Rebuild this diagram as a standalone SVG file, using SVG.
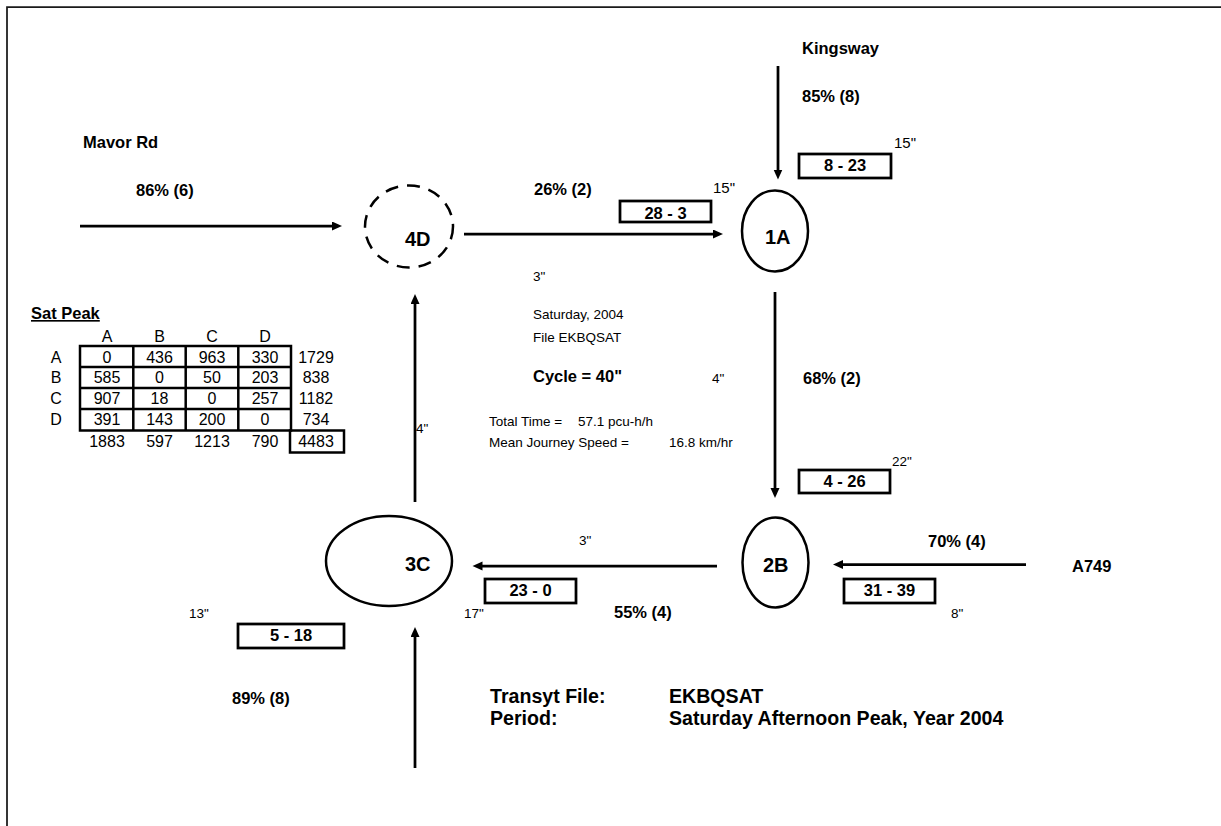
<svg xmlns="http://www.w3.org/2000/svg" width="1221" height="826" viewBox="0 0 1221 826">
<style>
text{font-family:"Liberation Sans",Arial,sans-serif;fill:#000}
.lb{font-weight:bold;font-size:16.5px}
.nd{font-weight:bold;font-size:20px}
.bx{font-weight:bold;font-size:16.5px;text-anchor:middle}
.s{font-size:13.5px}
.s15{font-size:15px}
.tb{font-size:16px;text-anchor:middle}
.big{font-weight:bold;font-size:19.6px}
.node{fill:none;stroke:#000;stroke-width:2.5}
.box{fill:#fff;stroke:#000;stroke-width:2.75}
.con{stroke:#000;stroke-width:2.75;fill:none;marker-end:url(#ah)}
.grid{stroke:#000;stroke-width:2.5;fill:none}
</style>
<defs>
<marker id="ah" markerUnits="userSpaceOnUse" markerWidth="11" markerHeight="10" refX="2" refY="4.5" orient="auto">
<path d="M0,0 L10,4.5 L0,9 z" fill="#000"/>
</marker>
</defs>
<rect width="1221" height="826" fill="#fff"/>
<path d="M7,826 V7 H1221" fill="none" stroke="#1a1a1a" stroke-width="1.75"/>

<g id="connectors">
<line class="con" x1="80" y1="226" x2="334" y2="226"/>
<line class="con" x1="464" y1="234" x2="715" y2="234"/>
<line class="con" x1="778" y1="66" x2="778" y2="171.5"/>
<line class="con" x1="775" y1="292" x2="775" y2="490"/>
<line class="con" x1="1026" y1="564.5" x2="841" y2="564.5"/>
<line class="con" x1="717" y1="566" x2="480.5" y2="566"/>
<line class="con" x1="415" y1="502" x2="415" y2="302"/>
<line class="con" x1="415" y1="768" x2="415" y2="635"/>
</g>

<g id="node-4D">
<ellipse class="node" cx="409" cy="226.5" rx="44" ry="41" stroke-dasharray="13 9"/>
<text class="nd" x="405" y="246">4D</text>
</g>
<g id="node-1A">
<ellipse class="node" cx="775" cy="231" rx="33" ry="40.5"/>
<text class="nd" x="765" y="244">1A</text>
</g>
<g id="node-2B">
<ellipse class="node" cx="775.5" cy="562.5" rx="33" ry="45"/>
<text class="nd" x="763" y="572">2B</text>
</g>
<g id="node-3C">
<ellipse class="node" cx="389" cy="561" rx="63" ry="45"/>
<text class="nd" x="405" y="571">3C</text>
</g>

<g id="box-28-3"><rect class="box" x="620" y="201" width="91" height="21"/><text class="bx" x="665.5" y="218.5">28 - 3</text></g>
<g id="box-8-23"><rect class="box" x="799" y="154" width="92" height="24"/><text class="bx" x="845" y="171">8 - 23</text></g>
<g id="box-4-26"><rect class="box" x="799" y="470" width="91" height="23"/><text class="bx" x="844.5" y="487">4 - 26</text></g>
<g id="box-31-39"><rect class="box" x="844" y="579" width="91" height="24"/><text class="bx" x="889.5" y="596">31 - 39</text></g>
<g id="box-23-0"><rect class="box" x="485" y="579" width="91" height="24"/><text class="bx" x="530.5" y="596">23 - 0</text></g>
<g id="box-5-18"><rect class="box" x="238" y="624" width="106" height="24"/><text class="bx" x="291" y="641">5 - 18</text></g>

<g id="labels">
<text class="lb" x="83" y="148">Mavor Rd</text>
<text class="lb" x="136" y="196">86% (6)</text>
<text class="lb" x="534" y="195">26% (2)</text>
<text class="s15" x="713" y="193">15"</text>
<text class="lb" x="802" y="54">Kingsway</text>
<text class="lb" x="802" y="102">85% (8)</text>
<text class="s15" x="894" y="148">15"</text>
<text class="lb" x="803" y="384">68% (2)</text>
<text class="s" x="712" y="383">4"</text>
<text class="s" x="892" y="466">22"</text>
<text class="lb" x="928" y="547">70% (4)</text>
<text class="lb" x="1072" y="572">A749</text>
<text class="s" x="951" y="618">8"</text>
<text class="s" x="579" y="545">3"</text>
<text class="lb" x="614" y="618">55% (4)</text>
<text class="s" x="464" y="618">17"</text>
<text class="s" x="189" y="618">13"</text>
<text class="lb" x="232" y="704">89% (8)</text>
<text class="s" x="416" y="433">4"</text>
</g>

<g id="info">
<text class="s" x="533" y="281">3"</text>
<text class="s" x="533" y="319">Saturday, 2004</text>
<text class="s" x="533" y="342">File EKBQSAT</text>
<text class="lb" x="533" y="382">Cycle = 40"</text>
<text class="s" x="489" y="426">Total Time =<tspan x="578">57.1 pcu-h/h</tspan></text>
<text class="s" x="489" y="447">Mean Journey Speed =<tspan x="669">16.8 km/hr</tspan></text>
<text class="big" x="490" y="703">Transyt File:</text>
<text class="big" x="669" y="703">EKBQSAT</text>
<text class="big" x="490" y="725">Period:</text>
<text class="big" x="669" y="725">Saturday Afternoon Peak, Year 2004</text>
</g>

<g id="table">
<text x="31" y="319" style="font-weight:bold;font-size:16.5px;text-decoration:underline">Sat Peak</text>
<g class="tb">
<text class="tb" x="107" y="341.5">A</text><text class="tb" x="159.5" y="341.5">B</text><text class="tb" x="212" y="341.5">C</text><text class="tb" x="265" y="341.5">D</text>
<text class="tb" x="56" y="362.5">A</text><text class="tb" x="56" y="383.3">B</text><text class="tb" x="56" y="404.3">C</text><text class="tb" x="56" y="425">D</text>
<text class="tb" x="107" y="362.5">0</text><text class="tb" x="159.5" y="362.5">436</text><text class="tb" x="212" y="362.5">963</text><text class="tb" x="265" y="362.5">330</text><text class="tb" x="316" y="362.5">1729</text>
<text class="tb" x="107" y="383.3">585</text><text class="tb" x="159.5" y="383.3">0</text><text class="tb" x="212" y="383.3">50</text><text class="tb" x="265" y="383.3">203</text><text class="tb" x="316" y="383.3">838</text>
<text class="tb" x="107" y="404.3">907</text><text class="tb" x="159.5" y="404.3">18</text><text class="tb" x="212" y="404.3">0</text><text class="tb" x="265" y="404.3">257</text><text class="tb" x="316" y="404.3">1182</text>
<text class="tb" x="107" y="425">391</text><text class="tb" x="159.5" y="425">143</text><text class="tb" x="212" y="425">200</text><text class="tb" x="265" y="425">0</text><text class="tb" x="316" y="425">734</text>
<text class="tb" x="107" y="446.5">1883</text><text class="tb" x="159.5" y="446.5">597</text><text class="tb" x="212" y="446.5">1213</text><text class="tb" x="265" y="446.5">790</text><text class="tb" x="316" y="446.5">4483</text>
</g>
<path class="grid" d="M80,346 H291 V430.5 H80 Z M133.3,346 V430.5 M185.7,346 V430.5 M238.3,346 V430.5 M80,367 H291 M80,388 H291 M80,409 H291"/>
<rect class="grid" x="290" y="430.5" width="54" height="22"/>
</g>
</svg>
